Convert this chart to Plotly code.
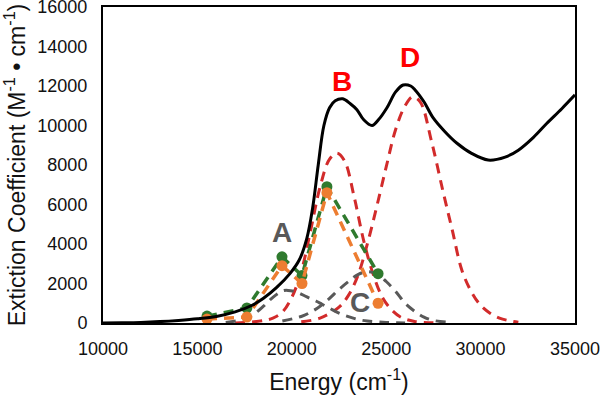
import plotly.graph_objects as go

# ---- data ----
exp_energy = [10000, 11000, 12000, 13000, 14000, 15000, 16000, 17000, 17900, 18500,
              19200, 19900, 20400, 20800, 21100, 21400, 21700, 22000, 22300, 22700,
              23100, 23450, 23800, 24250, 24600, 25040, 25500, 25900, 26300, 26530,
              27000, 27480, 28100, 28750, 29500, 30400, 31300, 32000, 32800, 33500,
              34300, 35000]
exp_eps = [0, 10, 30, 70, 130, 210, 330, 560, 900, 1250,
           1800, 2500, 3200, 4300, 5800, 8000, 10000, 10900, 11250, 11350,
           11100, 10800, 10300, 10000, 10300, 10900, 11700, 12050, 12000, 11800,
           11200, 10400, 9700, 9100, 8600, 8250, 8400, 8750, 9400, 10100,
           10850, 11550]

redB_energy = [17000, 17500, 18500, 19000, 19500, 20000, 20500, 21000, 21500, 22000,
               22400, 22800, 23300, 23800, 24300, 24800, 25300, 25800, 26500, 27500]
redB_eps = [0, 30, 120, 250, 550, 1300, 2600, 4700, 6900, 8300,
            8600, 8200, 6400, 4200, 2500, 1300, 650, 280, 80, 10]

redD_energy = [20500, 21500, 22500, 23000, 23500, 24000, 24500, 25000, 25500, 26000,
               26400, 26800, 27400, 28000, 28500, 29000, 29500, 30000, 30500, 31000,
               31500, 32000]
redD_eps = [60, 250, 800, 1400, 2400, 4000, 5900, 7900, 9800, 11000,
            11450, 11200, 9200, 6700, 4700, 2700, 1600, 900, 500, 250,
            120, 40]

grayA_energy = [16500, 17500, 18000, 18500, 19000, 19500, 19800, 20300, 20800, 21300,
                21600, 22000, 22500, 23000, 23500, 24000, 25000, 26000]
grayA_eps = [30, 200, 450, 850, 1300, 1620, 1650, 1550, 1320, 1100,
             950, 750, 500, 320, 180, 100, 30, 0]

grayC_energy = [19500, 20500, 21000, 21500, 22000, 22500, 23000, 23500, 24000, 24500,
                25000, 25500, 26000, 26500, 27000, 27500, 28500]
grayC_eps = [100, 330, 550, 850, 1250, 1700, 2100, 2450, 2600, 2500,
             2100, 1600, 1000, 600, 300, 130, 20]

fit_energy = [15510, 17620, 19480, 20540, 21860, 24570]
green_eps = [350, 760, 3350, 2400, 6900, 2500]
orange_eps = [200, 300, 2900, 2000, 6600, 1000]

band_labels = ["A", "B", "C", "D"]
band_x = [19480, 22660, 23610, 26260]
band_y = [4560, 12250, 1060, 13420]
band_colors = ["#595959", "#FF0000", "#595959", "#FF0000"]

x_ticks = [10000, 15000, 20000, 25000, 30000, 35000]
y_ticks = [0, 2000, 4000, 6000, 8000, 10000, 12000, 14000, 16000]

RED = "#D22B2B"
GRAY = "#595959"
GREEN = "#2F7A2E"
ORANGE = "#ED7D31"
DASH = "10px,7px"
FONT = "Liberation Sans, Arial, sans-serif"

fig = go.Figure()
fig.add_trace(go.Scatter(x=redB_energy, y=redB_eps, mode="lines",
                         line=dict(color=RED, width=3, dash=DASH, shape="spline")))
fig.add_trace(go.Scatter(x=redD_energy, y=redD_eps, mode="lines",
                         line=dict(color=RED, width=3, dash=DASH, shape="spline")))
fig.add_trace(go.Scatter(x=grayA_energy, y=grayA_eps, mode="lines",
                         line=dict(color=GRAY, width=3, dash=DASH, shape="spline")))
fig.add_trace(go.Scatter(x=grayC_energy, y=grayC_eps, mode="lines",
                         line=dict(color=GRAY, width=3, dash=DASH, shape="spline")))
fig.add_trace(go.Scatter(x=fit_energy, y=green_eps, mode="lines+markers",
                         line=dict(color=GREEN, width=3.5, dash=DASH),
                         marker=dict(color=GREEN, size=11)))
fig.add_trace(go.Scatter(x=fit_energy, y=orange_eps, mode="lines+markers",
                         line=dict(color=ORANGE, width=3.5, dash=DASH),
                         marker=dict(color=ORANGE, size=11)))
fig.add_trace(go.Scatter(x=exp_energy, y=exp_eps, mode="lines",
                         line=dict(color="black", width=3, shape="spline")))

for lab, lx, ly, lc in zip(band_labels, band_x, band_y, band_colors):
    fig.add_annotation(x=lx, y=ly, text="<b>%s</b>" % lab, showarrow=False,
                       font=dict(family=FONT, size=28, color=lc))

fig.update_layout(
    width=600, height=403,
    margin=dict(l=103, r=25, t=7, b=80),
    paper_bgcolor="white", plot_bgcolor="white",
    showlegend=False,
    font=dict(family=FONT, size=18, color="#111111"),
)
fig.update_xaxes(range=[10000, 35000], tickvals=x_ticks,
                 ticktext=[str(v) for v in x_ticks], ticks="", showgrid=False,
                 zeroline=False, showline=True, linecolor="black", linewidth=2,
                 mirror=True, ticklabelstandoff=8, ticklabeloverflow="allow",
                 automargin=False,
                 title=dict(text="Energy (cm<sup>-1</sup>)", font=dict(size=23), standoff=16))
fig.update_yaxes(range=[0, 16000], tickvals=y_ticks,
                 ticktext=[str(v) for v in y_ticks], ticks="", showgrid=False,
                 zeroline=False, showline=True, linecolor="black", linewidth=2,
                 mirror=True, ticklabelstandoff=10, ticklabeloverflow="allow",
                 automargin=False,
                 title=dict(text="Extiction Coefficient (M<sup>-1</sup> • cm<sup>-1</sup>)",
                            font=dict(size=23), standoff=6))

# remove the browser's default 8px body margin so the figure fills the window
fig.write_html("out.html", config={"displayModeBar": False},
               post_script="document.body.style.margin='0';")
